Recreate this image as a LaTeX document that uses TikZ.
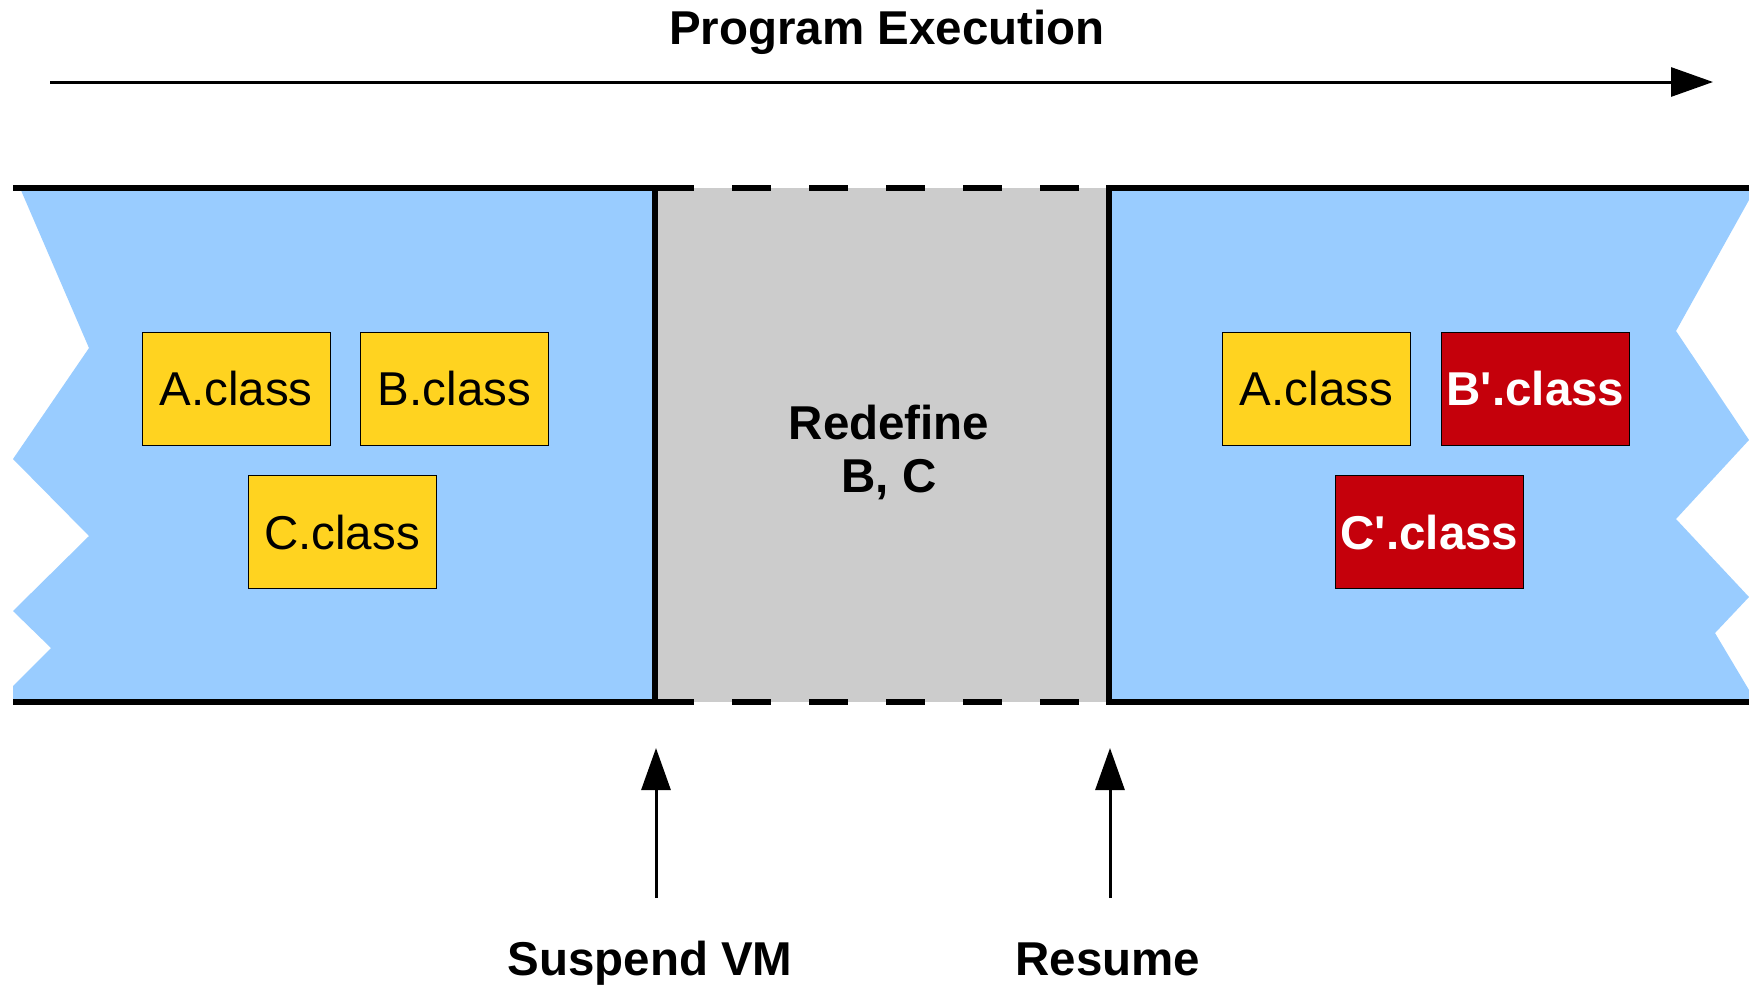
\documentclass[tikz,border=0pt]{standalone}
\usepackage{fontspec}
\setmainfont{Liberation Sans}
\usetikzlibrary{arrows.meta}
\definecolor{bgblue}{HTML}{99CCFF}
\definecolor{bggray}{HTML}{CCCCCC}
\definecolor{classyellow}{HTML}{FFD320}
\definecolor{classred}{HTML}{C5000B}
\begin{document}
\begin{tikzpicture}[x=1pt,y=-1pt,
  bigtext/.style={font=\fontsize{47.5}{53}\selectfont},
  boldtext/.style={font=\fontsize{47.5}{53}\selectfont\bfseries},
  classbox/.style={draw=black,line width=1pt,fill=classyellow,minimum width=188pt,minimum height=113pt,inner sep=0pt,bigtext,text depth=0pt,text height=34pt},
  newclass/.style={classbox,fill=classred,text=white,boldtext},
  edge/.style={line width=6pt},
  dashedge/.style={line width=6pt,dash pattern=on 38.5pt off 38.5pt},
  ptr/.style={line width=3pt,-{Triangle[length=42pt,width=29pt]}}]
\useasboundingbox (0,0) rectangle (1749,986);
% regions
\fill[bgblue] (20,188) -- (655,188) -- (655,702) -- (13,702) -- (13,686) -- (51,648) -- (13,611) -- (89,536) -- (13,459) -- (89,348) -- cycle;
\fill[bggray] (655,188) rectangle (1110,702);
\fill[bgblue] (1110,188) -- (1749,188) -- (1749,200) -- (1676,331) -- (1749,440) -- (1676,519) -- (1749,597) -- (1715,633) -- (1749,690) -- (1749,702) -- (1110,702) -- cycle;
% borders
\draw[edge] (13,188) -- (655,188);
\draw[edge] (13,702) -- (655,702);
\draw[dashedge] (655,188) -- (1110,188);
\draw[dashedge] (655,702) -- (1110,702);
\draw[edge] (1106,188) -- (1749,188);
\draw[edge] (1106,702) -- (1749,702);
\draw[edge] (655,185) -- (655,705);
\draw[edge] (1109,185) -- (1109,705);
% title and top arrow
\node[boldtext,anchor=base] (title) at (887,44) {Program Execution};
\coordinate (tstart) at (50,82);
\coordinate (tend) at (1713,82);
\draw[ptr] (tstart) -- (tend);
% classes
\node[classbox] (a1) at (236,388.5) {A.class};
\node[classbox] (b1) at (454.5,388.5) {B.class};
\node[classbox] (c1) at (342,532) {C.class};
\node[classbox] (a2) at (1316.5,388.5) {A.class};
\node[newclass] (b2) at (1535.5,388.5) {B\textquotesingle.class};
\node[newclass] (c2) at (1429.5,532) {C\textquotesingle.class};
% redefine
\node[boldtext,align=center,anchor=base] (redef) at (889,492) {Redefine\\B, C};
% bottom labels and arrows
\node[boldtext,anchor=base] (suspend) at (650,975) {Suspend VM};
\node[boldtext,anchor=base] (resume) at (1108,975) {Resume};
\coordinate (s0) at (656,898);
\coordinate (s1) at (656,748);
\coordinate (r0) at (1110,898);
\coordinate (r1) at (1110,748);
\draw[ptr] (s0) -- (s1);
\draw[ptr] (r0) -- (r1);
\end{tikzpicture}
\end{document}
